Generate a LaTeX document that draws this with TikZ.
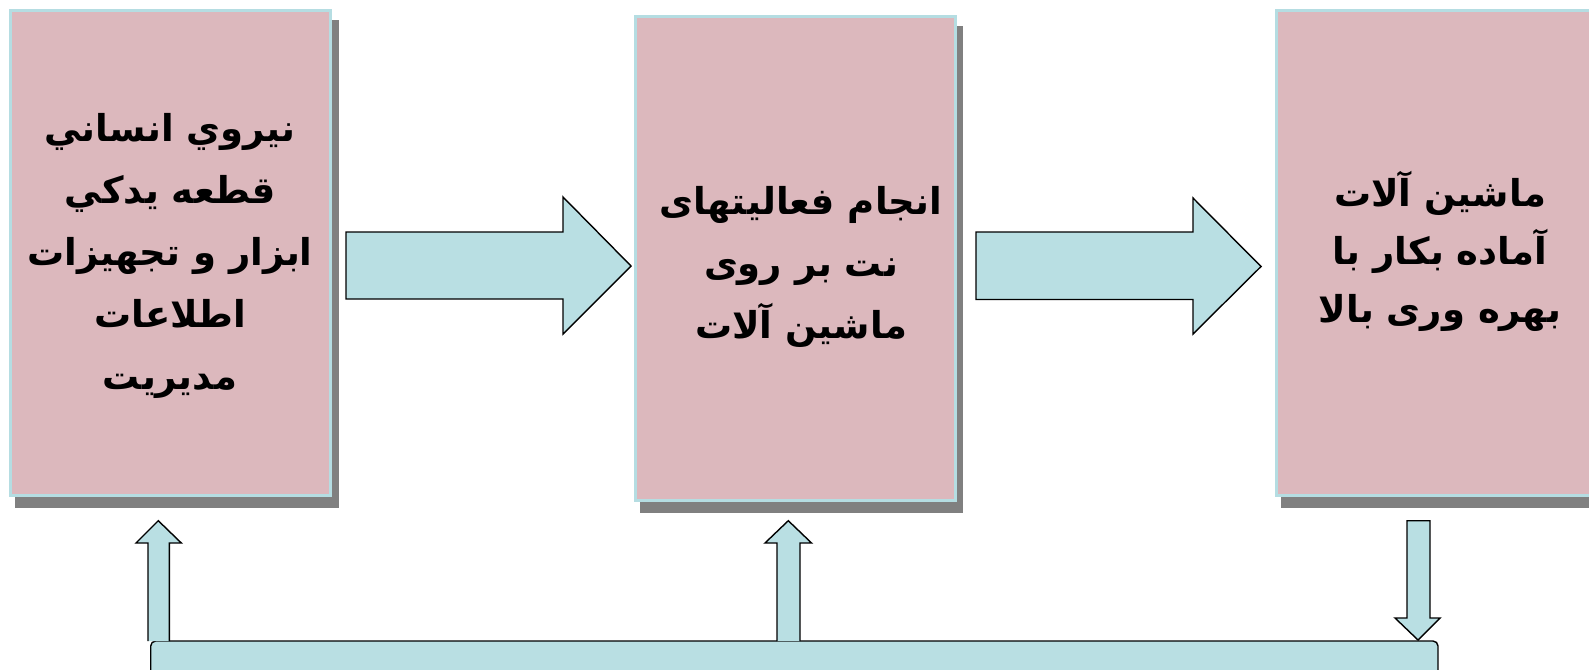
\documentclass[tikz,border=0pt]{standalone}
\usepackage{fontspec}
\TeXXeTstate=1
\newfontfamily\arabicfont[Script=Arabic]{DejaVu Sans}
\definecolor{boxpink}{HTML}{DCB8BD}
\definecolor{boxedge}{HTML}{B5DDE2}
\definecolor{arrowfill}{HTML}{B9DFE3}
\definecolor{shadowgray}{HTML}{808080}
\begin{document}
\begin{tikzpicture}[x=1pt,y=-1pt,
  box/.style={fill=boxpink,draw=boxedge,line width=3pt},
  blockarrow/.style={fill=arrowfill,draw=black,line width=1.4pt,line join=miter},
  label/.style={font=\arabicfont\bfseries\fontsize{37}{62}\selectfont,align=center,text=black}]
\useasboundingbox (0,0) rectangle (1589,669);
% boxes with shadows
\fill[shadowgray] (15,20) rectangle (339,508);
\draw[box] (10.5,11) rectangle (330.5,495.5);
\fill[shadowgray] (640,26) rectangle (963,513);
\draw[box] (635.5,16.5) rectangle (955.5,500.5);
\fill[shadowgray] (1281,20) rectangle (1620,508);
\draw[box] (1276.5,11) rectangle (1620,495.5);
% texts
\node[label] (t1) at (170,256) {\beginR نيروي انساني\endR\\\beginR قطعه يدكي\endR\\\beginR ابزار و تجهيزات\endR\\\beginR اطلاعات\endR\\\beginR مديريت\endR};
\node[label] (t2) at (801,267) {\beginR انجام فعاليتهای\endR\\\beginR نت بر روی\endR\\\beginR ماشين آلات\endR};
\node[label,font=\arabicfont\bfseries\fontsize{37}{58}\selectfont] (t3) at (1440,251) {\beginR ماشين آلات\endR\\\beginR آماده بكار با\endR\\\beginR بهره وری بالا\endR};
% horizontal block arrows
\draw[blockarrow] (346,232) -- (563,232) -- (563,197) -- (631,266) -- (563,334) -- (563,299) -- (346,299) -- cycle;
\draw[blockarrow] (976,232) -- (1193,232) -- (1193,198) -- (1261,266.5) -- (1193,334) -- (1193,299.5) -- (976,299.5) -- cycle;
% bottom bar
\draw[blockarrow,rounded corners=5pt] (150.7,641) rectangle (1438,700);
% vertical arrows
\draw[blockarrow] (148,641) -- (148,543) -- (136,543) -- (158.3,520.7) -- (181.3,543) -- (169.3,543) -- (169.3,641);
\draw[blockarrow] (777,641) -- (777,543) -- (765,543) -- (788.3,520.7) -- (811.5,543) -- (800,543) -- (800,641);
\draw[blockarrow] (1407,520.7) -- (1430,520.7) -- (1430,618) -- (1440,618) -- (1418,640) -- (1395,618) -- (1407,618) -- cycle;
\end{tikzpicture}
\end{document}
